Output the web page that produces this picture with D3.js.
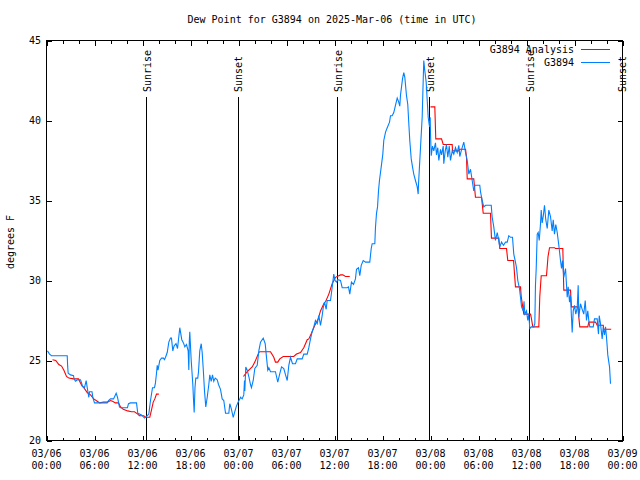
<!DOCTYPE html>
<html>
<head>
<meta charset="utf-8">
<script src="https://cdn.jsdelivr.net/npm/d3@7"></script>
<style>
  html, body { margin: 0; padding: 0; background: #fff; }
  svg { display: block; }
  text { font-family: "DejaVu Sans Mono", "Liberation Mono", monospace; font-size: 10px; fill: #000; }
</style>
</head>
<body>
<svg id="chart" width="640" height="480"></svg>
<script>
// ---- DATA (hours after 2025-03-06 00:00 UTC, dew point in °F) ----
const blueHours = [0.12,0.38,0.62,2.59,2.65,2.71,3.0,3.38,3.44,3.62,3.88,4.25,4.38,4.5,4.75,4.96,5.06,5.29,5.38,5.69,5.79,6.0,7.59,7.75,8.0,8.38,8.71,8.88,9.12,9.25,10.12,10.25,10.5,11.25,11.41,11.88,12.25,12.59,12.79,13.0,13.25,13.5,13.62,13.75,13.84,13.94,14.16,14.38,14.62,14.75,14.88,15.09,15.29,15.5,15.62,15.79,15.94,16.19,16.38,16.66,16.91,17.12,17.29,17.5,17.71,17.79,17.85,17.91,18.09,18.29,18.38,18.46,18.56,18.66,18.91,19.0,19.16,19.34,19.46,19.59,19.75,19.91,20.09,20.29,20.41,20.59,20.75,20.91,21.09,21.34,21.5,21.75,21.96,22.16,22.38,22.79,22.91,23.09,23.34,23.54,23.71,23.96,24.16,24.25,24.46,24.66,24.75,24.79,24.91,25.09,25.29,25.5,25.62,25.84,26.04,26.34,26.54,26.75,27.09,27.34,27.46,27.66,27.79,28.0,28.62,28.75,28.91,29.12,29.38,29.66,29.88,30.09,30.29,30.5,30.75,31.12,31.34,31.96,32.16,32.59,32.79,33.0,33.21,33.41,33.62,33.84,34.04,34.25,34.46,34.59,34.75,34.96,35.09,35.5,35.69,35.91,36.06,36.25,36.41,36.75,36.96,37.59,37.75,37.91,38.12,38.38,38.62,38.75,39.0,39.16,39.34,39.59,39.88,40.41,40.59,40.71,41.04,41.12,41.25,41.38,41.5,41.62,41.84,42.04,42.16,42.38,42.59,42.88,43.0,43.21,43.41,43.62,43.84,44.0,44.16,44.25,44.38,44.5,44.66,44.79,45.0,45.16,45.29,45.41,45.59,45.75,45.91,46.12,46.34,46.46,46.5,46.62,46.75,46.96,47.04,47.16,47.29,47.46,47.71,47.88,47.96,48.0,48.09,48.25,48.41,48.62,48.75,48.91,49.04,49.25,49.38,49.59,49.66,49.84,50.0,50.16,50.34,50.5,50.71,50.91,51.12,51.34,51.54,51.66,51.84,52.16,52.38,52.59,52.79,53.0,53.21,53.41,53.56,54.16,54.25,54.46,54.66,54.88,55.59,55.71,55.91,56.12,56.34,56.46,56.66,56.88,57.12,57.38,57.59,57.79,58.0,58.25,58.41,58.62,58.75,58.91,59.12,59.25,59.38,59.59,59.69,59.79,60.0,60.16,60.29,60.41,60.62,60.91,61.04,61.12,61.21,61.34,61.46,61.59,61.75,61.84,61.96,62.09,62.25,62.41,62.59,62.79,63.0,63.21,63.34,63.5,63.66,63.84,64.04,64.25,64.38,64.5,64.66,64.88,65.09,65.21,65.38,65.5,65.62,65.71,65.84,66.0,66.16,66.34,66.46,66.54,66.75,66.96,67.16,67.34,67.5,67.66,67.79,67.91,68.34,68.5,68.84,68.91,69.0,69.09,69.25,69.46,69.59,69.75,69.88,70.0,70.09,70.16,70.29,70.38,70.5];
const blueValues = [25.6,25.4,25.3,25.3,24.6,24.2,24.1,24.05,23.85,23.7,23.8,23.8,23.6,23.4,23.3,23.75,23.4,22.7,23.05,23.05,22.7,22.35,22.35,22.5,22.6,22.6,22.95,22.7,22.1,22.05,22.05,22.3,22.35,22.35,21.7,21.6,21.4,21.55,21.65,22.5,23.3,23.3,23.6,24.2,24.7,24.4,25.0,25.15,25.15,25.05,25.2,25.5,26.15,26.4,26.4,25.6,25.9,26.05,25.75,27.05,26.3,26.1,25.85,26.0,25.6,24.4,26.2,26.8,25.0,23.5,22.5,21.75,23.3,23.9,23.9,24.3,25.6,26.05,25.5,24.5,23.1,22.1,22.7,23.5,24.1,23.7,24.1,23.7,23.9,23.8,23.5,23.2,22.6,22.5,21.7,21.7,22.3,22.0,21.45,21.8,22.1,22.4,22.6,22.7,22.6,22.85,23.75,23.1,24.6,24.4,24.0,23.5,23.3,23.75,24.5,24.7,25.6,26.15,26.4,26.05,25.4,24.4,24.55,24.3,24.3,24.0,23.65,24.1,24.6,24.5,24.1,23.75,24.7,25.2,24.8,24.8,25.1,25.1,25.4,25.4,25.8,26.35,26.8,27.1,27.5,27.3,27.8,27.2,27.8,28.3,28.65,28.2,28.75,28.75,29.5,30.4,30.0,29.9,30.05,30.0,29.55,29.55,29.6,29.15,29.9,29.75,30.1,30.7,30.8,30.3,30.95,31.25,31.15,31.15,32.0,32.3,32.3,33.3,34.2,34.6,35.6,36.25,37.1,37.9,38.75,39.27,39.55,39.9,40.3,40.3,40.5,40.95,41.4,41.2,40.9,41.6,42.1,42.6,43.0,42.7,41.55,41.0,39.8,38.75,37.6,37.1,36.65,36.25,35.85,35.4,36.0,37.1,38.3,40.2,41.65,43.75,43.1,42.4,40.2,39.6,40.2,39.2,37.8,38.4,38.1,38.6,37.85,38.3,37.5,38.2,37.85,38.4,37.3,38.1,38.5,37.7,38.4,37.5,38.1,37.9,38.3,38.0,38.45,37.75,38.1,38.65,38.0,37.5,36.65,36.95,36.25,35.6,35.95,35.95,35.55,35.0,34.6,34.7,34.7,33.95,33.35,32.5,33.0,32.7,32.1,32.4,32.2,32.4,32.4,32.8,32.7,32.7,31.65,31.15,30.8,30.0,29.5,28.95,28.35,28.1,28.7,27.9,28.1,27.5,27.9,27.0,27.1,27.1,27.3,29.7,30.7,32.9,33.0,32.5,33.55,34.4,33.6,34.0,34.7,33.8,33.25,34.4,34.0,33.1,33.8,32.9,33.5,33.0,32.2,31.25,30.75,31.25,30.2,30.75,28.95,29.6,28.65,29.1,27.7,26.75,28.1,28.45,27.9,28.3,29.7,27.7,28.55,28.2,27.9,28.75,27.5,28.1,27.5,27.1,27.1,27.6,27.6,27.1,26.65,27.8,27.3,26.35,27.1,26.6,27.1,26.45,25.85,25.35,24.9,24.6,23.55];

// analysis series; null marks a gap in the record
const redHours = [0.75,1.16,1.54,1.88,2.16,2.5,2.79,3.38,4.0,4.25,4.46,4.66,5.09,5.5,5.91,6.34,6.66,7.12,7.62,8.0,8.25,8.62,9.0,9.25,9.59,10.16,10.62,11.0,11.41,11.62,12.16,12.38,12.91,13.12,13.34,13.54,13.75,14.04,19.0,24.62,25.09,25.71,26.04,26.54,26.66,28.0,28.41,28.62,28.91,29.16,29.59,30.91,31.25,31.75,32.16,32.59,32.79,33.12,33.54,33.96,34.25,34.66,34.91,35.29,35.71,36.12,36.54,36.75,37.04,37.38,37.91,43.0,48.0,48.54,48.66,49.38,49.59,50.71,50.75,51.54,51.66,52.38,52.5,52.59,53.41,53.62,54.38,54.59,55.5,55.62,56.54,56.66,57.5,57.66,58.38,58.62,59.25,59.34,59.66,60.5,60.59,60.79,61.54,61.66,61.84,62.5,62.69,62.88,63.5,63.62,64.54,64.66,65.5,65.62,66.41,66.66,67.66,67.79,68.62,68.84,69.59,69.66,70.59];
const redValues = [25.05,25.0,24.75,24.65,24.4,24.0,23.9,23.85,23.85,23.6,23.4,23.3,23.0,22.85,22.6,22.45,22.35,22.4,22.4,22.5,22.45,22.35,22.35,22.1,21.95,21.85,21.8,21.8,21.65,21.55,21.55,21.45,21.45,21.9,22.4,22.6,22.9,22.9,null,24.0,24.3,24.6,24.9,25.5,25.55,25.55,25.2,24.9,24.9,25.1,25.25,25.25,25.4,25.5,25.8,26.3,26.35,26.7,27.2,27.6,28.1,28.55,28.7,29.15,29.8,30.2,30.3,30.35,30.35,30.25,30.25,null,40.85,40.85,38.85,38.85,38.5,38.5,38.1,38.1,38.2,38.2,37.7,36.35,36.35,35.2,35.2,34.2,34.2,32.65,32.65,32.0,32.0,31.25,31.25,29.6,29.6,29.0,27.9,27.9,27.7,27.1,27.1,29.0,30.3,30.3,31.5,32.05,32.05,32.0,32.0,29.4,29.4,28.35,28.35,27.1,27.1,27.4,27.4,27.2,27.2,26.95,26.95];

const sunHours  = [12.5, 23.96, 36.42, 47.92, 60.42, 71.95];
const sunLabels = ["Sunrise","Sunset","Sunrise","Sunset","Sunrise","Sunset"];

const tickHours = [0,6,12,18,24,30,36,42,48,54,60,66,72];
const tickDates = ["03/06","03/06","03/06","03/06","03/07","03/07","03/07","03/07","03/08","03/08","03/08","03/08","03/09"];
const tickTimes = ["00:00","06:00","12:00","18:00","00:00","06:00","12:00","18:00","00:00","06:00","12:00","18:00","00:00"];
const minorTickHours = d3.range(0, 73, 2);
const yTicks = [20,25,30,35,40,45];

const seriesNames = ["G3894 Analysis","G3894"];
const seriesColors = ["#ff0000","#0080ff"];
const titleText = "Dew Point for G3894 on 2025-Mar-06 (time in UTC)";
const yLabel = "degrees F";

// ---- CHART ----
const svg = d3.select("#chart");
const L = 46, R = 622, T = 40, B = 440;
const x = d3.scaleLinear().domain([0,72]).range([L+0.5, R+0.5]);
const y = d3.scaleLinear().domain([20,45]).range([B+0.5, T+0.5]);

// minor ticks (bottom + top)
svg.append("g").attr("transform",`translate(0,${B+0.5})`)
  .call(d3.axisBottom(x).tickValues(minorTickHours).tickSize(-3).tickFormat(""));
svg.append("g").attr("transform",`translate(0,${T+0.5})`)
  .call(d3.axisTop(x).tickValues(minorTickHours).tickSize(-3).tickFormat(""));
// major ticks
svg.append("g").attr("transform",`translate(0,${B+0.5})`)
  .call(d3.axisBottom(x).tickValues(tickHours).tickSize(-5).tickFormat(""));
svg.append("g").attr("transform",`translate(0,${T+0.5})`)
  .call(d3.axisTop(x).tickValues(tickHours).tickSize(-5).tickFormat(""));
svg.append("g").attr("transform",`translate(${L+0.5},0)`)
  .call(d3.axisLeft(y).tickValues(yTicks).tickSize(-5).tickFormat(""));
svg.append("g").attr("transform",`translate(${R+0.5},0)`)
  .call(d3.axisRight(y).tickValues(yTicks).tickSize(-5).tickFormat(""));
svg.selectAll(".domain").remove();
svg.selectAll(".tick line").attr("stroke","#000").attr("shape-rendering","crispEdges");

// frame
svg.append("rect").attr("x",L+0.5).attr("y",T+0.5).attr("width",R-L).attr("height",B-T)
  .attr("fill","none").attr("stroke","#000").attr("shape-rendering","crispEdges");

// x tick labels
const xl = svg.append("g").selectAll("text").data(tickHours).join("text")
  .attr("text-anchor","middle");
xl.append("tspan").attr("x", d => x(d)).attr("y", 457).text((d,i) => tickDates[i]);
xl.append("tspan").attr("x", d => x(d)).attr("y", 469).text((d,i) => tickTimes[i]);

// y tick labels
svg.append("g").selectAll("text").data(yTicks).join("text")
  .attr("x", 41).attr("y", d => y(d) + 3.5).attr("text-anchor","end").text(d => d);

// title + y label
svg.append("text").attr("x", 332).attr("y", 23).attr("text-anchor","middle").text(titleText);
svg.append("text").attr("transform","translate(14,242) rotate(-90)").attr("text-anchor","middle").text(yLabel);

// sunrise / sunset lines
svg.append("g").selectAll("line").data(sunHours).join("line")
  .attr("x1", d => Math.round(x(d)-0.5)+0.5).attr("x2", d => Math.round(x(d)-0.5)+0.5)
  .attr("y1", 97).attr("y2", B).attr("stroke","#000").attr("shape-rendering","crispEdges");
svg.append("g").selectAll("text").data(sunHours).join("text")
  .attr("transform", d => `translate(${Math.round(x(d))+3.5},92) rotate(-90)`)
  .attr("text-anchor","start").text((d,i) => sunLabels[i]);

// data lines
const redData = redHours.map((h,i) => ({h, v: redValues[i]}));
const blueData = blueHours.map((h,i) => ({h, v: blueValues[i]}));
const line = d3.line().defined(d => d.v !== null).x(d => x(d.h)).y(d => y(d.v));
svg.append("path").datum(redData).attr("d", line).attr("fill","none")
  .attr("stroke", seriesColors[0]).attr("stroke-width",1.1);
svg.append("path").datum(blueData).attr("d", line).attr("fill","none")
  .attr("stroke", seriesColors[1]).attr("stroke-width",1.1);

// legend
const legY = [49, 62];
seriesNames.forEach((n,i) => {
  svg.append("text").attr("x", 574).attr("y", legY[i] + 3.5).attr("text-anchor","end").text(n);
  svg.append("line").attr("x1",581).attr("x2",610).attr("y1",legY[i]+0.5).attr("y2",legY[i]+0.5)
    .attr("stroke", seriesColors[i]).attr("shape-rendering","crispEdges");
});
</script>
</body>
</html>
